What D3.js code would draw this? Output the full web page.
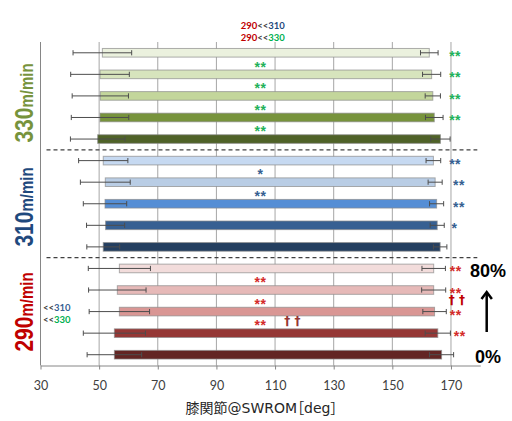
<!DOCTYPE html>
<html>
<head>
<meta charset="utf-8">
<script src="https://cdn.jsdelivr.net/npm/d3@7"></script>
<style>
  html, body { margin: 0; padding: 0; background: #fff; }
  svg { display: block; }
</style>
</head>
<body>
<svg id="chart" width="512" height="421"></svg>
<script>
// Knee joint swing range of motion: mean min/max angle per speed and load level
const speeds = ["330", "310", "290"];
const levels = ["80%", "60%", "40%", "20%", "0%"];
const minMean = [51.1, 50.3, 50.4, 50.3, 49.5, 51.4, 52.1, 52.0, 52.2, 51.4, 56.9, 56.2, 56.9, 55.2, 55.2];
const minSD   = [10.0, 10.0, 9.6, 9.8, 9.3, 8.4, 8.5, 7.4, 6.5, 5.6, 10.6, 9.8, 10.3, 10.6, 9.3];
const maxMean = [162.6, 163.4, 163.8, 164.3, 166.4, 164.0, 164.6, 165.1, 165.3, 166.3, 164.1, 164.1, 164.4, 165.5, 166.8];
const maxSD   = [3.0, 3.1, 2.6, 3.0, 3.3, 2.5, 2.4, 2.4, 2.4, 2.3, 4.0, 4.1, 4.0, 4.3, 4.1];
const xTicks = [30, 50, 70, 90, 110, 130, 150, 170];

// colours per speed group, lightest (80%) to darkest (0%)
const barColors = [
  ["#ebf1de", "#d7e4bd", "#c3d69b", "#77933c", "#4f6228"],
  ["#c6d9f1", "#b9cde5", "#558ed5", "#376092", "#243f60"],
  ["#f2dcdb", "#e6b9b8", "#d99694", "#953735", "#632523"]
];
const groupColors = ["#77933c", "#1f497d", "#c00000"];
const GREEN = "#1fb25a", BLUE = "#365f91", RED = "#d42a2a", DARKRED = "#953735";

// significance marks between adjacent levels (rows), drawn mid-plot
const midMarks = [
  { rows: [0, 1], text: "**", color: GREEN },
  { rows: [1, 2], text: "**", color: GREEN },
  { rows: [2, 3], text: "**", color: GREEN },
  { rows: [3, 4], text: "**", color: GREEN },
  { rows: [5, 6], text: "*", color: BLUE },
  { rows: [6, 7], text: "**", color: BLUE },
  { rows: [10, 11], text: "**", color: RED },
  { rows: [11, 12], text: "**", color: RED },
  { rows: [12, 13], text: "**", color: RED }
];
// significance marks next to each bar's max angle
const sideMarks = [
  { row: 0, text: "**", color: GREEN, at: 171.4 },
  { row: 1, text: "**", color: GREEN, at: 171.4 },
  { row: 2, text: "**", color: GREEN, at: 171.4 },
  { row: 3, text: "**", color: GREEN, at: 171.4 },
  { row: 5, text: "**", color: BLUE, at: 171.4 },
  { row: 6, text: "**", color: BLUE, at: 172.7 },
  { row: 7, text: "**", color: BLUE, at: 172.7 },
  { row: 8, text: "*", color: BLUE, at: 171.2 },
  { row: 10, text: "**", color: RED, at: 171.6 },
  { row: 11, text: "**", color: RED, at: 171.6 },
  { row: 12, text: "**", color: RED, at: 171.6 },
  { row: 13, text: "**", color: RED, at: 173.0 }
];

const rows = d3.range(speeds.length * levels.length);
const svg = d3.select("#chart");
const font = "Lato, 'Open Sans', 'Liberation Sans', sans-serif";
const boldFont = "'Liberation Sans', Arial, sans-serif";
const plotTop = 42, plotBottom = 365.5, plotLeft = 40.5, plotRight = 480.3;

const x = d3.scaleLinear().domain([30, 180]).range([plotLeft, plotRight]);
const y = d3.scaleBand().domain(rows).range([plotTop, plotBottom]).paddingInner(0.6).paddingOuter(0.3);
const cy = i => y(i) + y.bandwidth() / 2;
const step = y.step();

// vertical gridlines
svg.append("g").selectAll("line").data(xTicks.slice(1)).join("line")
  .attr("x1", d => x(d)).attr("x2", d => x(d))
  .attr("y1", plotTop).attr("y2", plotBottom)
  .attr("stroke", "#a6a6a6").attr("stroke-width", 1);

// x axis
const xAxis = svg.append("g").attr("transform", `translate(0,${plotBottom})`)
  .call(d3.axisBottom(x).tickValues(xTicks).tickSize(4).tickPadding(12).tickSizeOuter(0));
xAxis.select(".domain").attr("stroke", "#868686");
xAxis.selectAll(".tick line").attr("stroke", "#868686");
xAxis.selectAll(".tick text").attr("font-family", font).attr("font-size", 12.5).attr("fill", "#404040");

// left axis line
svg.append("line").attr("x1", plotLeft).attr("x2", plotLeft).attr("y1", plotTop).attr("y2", plotBottom)
  .attr("stroke", "#868686");

// group separators
[5, 10].forEach(k => {
  const yy = plotTop + step * k;
  svg.append("line").attr("x1", plotLeft + 6).attr("x2", plotRight - 3)
    .attr("y1", yy).attr("y2", yy)
    .attr("stroke", "#404040").attr("stroke-width", 1.3).attr("stroke-dasharray", "4,3");
});

// floating bars min..max
svg.append("g").selectAll("rect").data(rows).join("rect")
  .attr("x", i => x(minMean[i]))
  .attr("width", i => x(maxMean[i]) - x(minMean[i]))
  .attr("y", i => y(i)).attr("height", y.bandwidth())
  .attr("fill", i => barColors[Math.floor(i / 5)][i % 5])
  .attr("stroke", "rgba(140,140,140,0.7)").attr("stroke-width", 1);

// error bars at both ends
const errs = [];
rows.forEach(i => {
  errs.push({ i, m: minMean[i], s: minSD[i] });
  errs.push({ i, m: maxMean[i], s: maxSD[i] });
});
const eg = svg.append("g").attr("stroke", "#4d4d4d").attr("stroke-width", 1);
errs.forEach(e => {
  const yy = cy(e.i);
  eg.append("line").attr("x1", x(e.m - e.s)).attr("x2", x(e.m + e.s)).attr("y1", yy).attr("y2", yy);
  [e.m - e.s, e.m + e.s].forEach(v => {
    eg.append("line").attr("x1", x(v)).attr("x2", x(v)).attr("y1", yy - 2.6).attr("y2", yy + 2.6);
  });
});

// asterisk marks
const starSize = 14;
function star(xp, yc, text, color) {
  svg.append("text").attr("x", xp).attr("y", yc + starSize * 0.57)
    .attr("text-anchor", "middle").attr("font-family", boldFont).attr("font-weight", "bold")
    .attr("font-size", starSize).attr("letter-spacing", 0.5).attr("fill", color).text(text);
}
midMarks.forEach(m => star(x(105), (cy(m.rows[0]) + cy(m.rows[1])) / 2, m.text, m.color));
sideMarks.forEach(m => star(x(m.at), cy(m.row), m.text, m.color));

// dagger marks
function dagger(xp, yc, color) {
  svg.append("text").attr("x", xp).attr("y", yc + 4)
    .attr("text-anchor", "middle").attr("font-family", "'DejaVu Sans', sans-serif")
    .attr("font-weight", "bold").attr("font-size", 12).attr("fill", color).text("† †");
}
dagger(x(115.9), (cy(12) + cy(13)) / 2 - 1, DARKRED);
dagger(x(172.0), (cy(11) + cy(12)) / 2 - 0.5, "#c00000");

// speed group labels (rotated)
const groupCenters = [103, 207, 312];
speeds.forEach((s, g) => {
  const t = svg.append("text")
    .attr("transform", `translate(33,${groupCenters[g]}) scale(1.2,1) rotate(-90)`)
    .attr("text-anchor", "middle").attr("font-family", boldFont).attr("font-weight", "bold")
    .attr("fill", groupColors[g]);
  t.append("tspan").attr("font-size", 21).text(s);
  t.append("tspan").attr("font-size", 15).text("m/min");
});

// comparison notes
function note(xp, yp, parts, anchor) {
  const t = svg.append("text").attr("x", xp).attr("y", yp).attr("text-anchor", anchor)
    .attr("dominant-baseline", "central")
    .attr("font-family", font).attr("font-weight", "bold").attr("font-size", 9.5);
  parts.forEach(p => t.append("tspan").attr("fill", p[1]).text(p[0]));
}
note(262.7, 25, [["290", "#c00000"], ["<<", "#404040"], ["310", "#1f497d"]], "middle");
note(262.7, 37, [["290", "#c00000"], ["<<", "#404040"], ["330", "#00b050"]], "middle");
note(43, 307, [["<<", "#404040"], ["310", "#376092"]], "start");
note(43, 319, [["<<", "#404040"], ["330", "#00b050"]], "start");

// load level arrow
svg.append("text").attr("x", 488).attr("y", 271).attr("dominant-baseline", "central")
  .attr("text-anchor", "middle").attr("font-family", boldFont).attr("font-weight", "bold")
  .attr("font-size", 18).attr("fill", "#000").text(levels[0]);
svg.append("text").attr("x", 488).attr("y", 357).attr("dominant-baseline", "central")
  .attr("text-anchor", "middle").attr("font-family", boldFont).attr("font-weight", "bold")
  .attr("font-size", 18).attr("fill", "#000").text(levels[4]);
svg.append("line").attr("x1", 486.7).attr("x2", 486.7).attr("y1", 332).attr("y2", 293)
  .attr("stroke", "#000").attr("stroke-width", 2.5);
svg.append("polyline").attr("points", "481.5,299 486.7,292 491.9,299")
  .attr("fill", "none").attr("stroke", "#000").attr("stroke-width", 2.5);

// axis title
svg.append("text").attr("x", 261.5).attr("y", 408).attr("dominant-baseline", "central")
  .attr("text-anchor", "middle").attr("font-family", "'DejaVu Sans', 'Noto Sans CJK JP', sans-serif")
  .style("font-feature-settings", "'palt'")
  .attr("font-size", 14).attr("fill", "#262626").text("膝関節@SWROM［deg］");
</script>
</body>
</html>
